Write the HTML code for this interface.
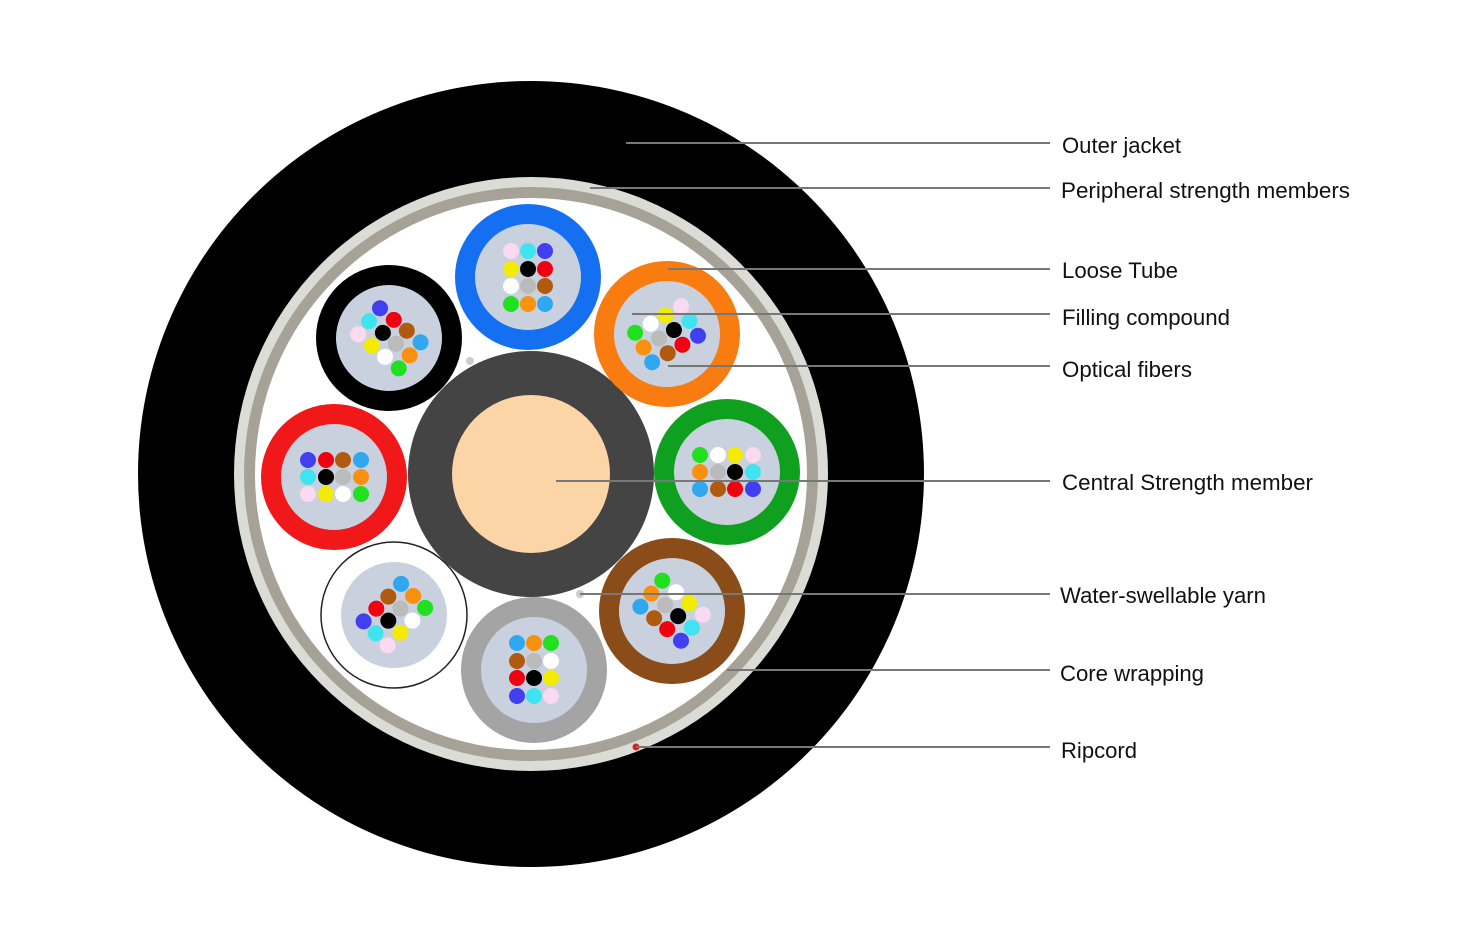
<!DOCTYPE html>
<html><head><meta charset="utf-8"><style>
html,body{margin:0;padding:0;background:#fff;}
svg{display:block}
text{font-family:"Liberation Sans",sans-serif;font-size:22px;fill:#111}
</style></head><body>
<svg width="1476" height="926" viewBox="0 0 1476 926" xmlns="http://www.w3.org/2000/svg">
<defs>
<g id="fib">
<circle r="53" fill="#c9d1df"/>
<circle cx="-17" cy="-26" r="8" fill="#fadaf0"/>
<circle cx="0" cy="-26" r="8" fill="#40e4f0"/>
<circle cx="17" cy="-26" r="8" fill="#4040f0"/>
<circle cx="-17" cy="-8" r="8" fill="#f4ec00"/>
<circle cx="0" cy="-8" r="8" fill="#000"/>
<circle cx="17" cy="-8" r="8" fill="#f00010"/>
<circle cx="-17" cy="9" r="8" fill="#fff"/>
<circle cx="0" cy="9" r="8" fill="#bbb"/>
<circle cx="17" cy="9" r="8" fill="#b05a10"/>
<circle cx="-17" cy="27" r="8" fill="#20e020"/>
<circle cx="0" cy="27" r="8" fill="#f89010"/>
<circle cx="17" cy="27" r="8" fill="#30a8f0"/>
</g>
</defs>
<circle cx="531" cy="474" r="393" fill="#000"/>
<circle cx="531" cy="474" r="297" fill="#dcdcd6"/>
<circle cx="531" cy="474" r="287" fill="#a6a298"/>
<circle cx="531" cy="474" r="276" fill="#fff"/>
<circle cx="531" cy="474" r="123" fill="#444"/>
<circle cx="531" cy="474" r="79" fill="#fbd5a6"/>

<circle cx="528" cy="277" r="73" fill="#1470f0"/><use href="#fib" transform="translate(528,277)"/>
<circle cx="667" cy="334" r="73" fill="#f87c10"/><use href="#fib" transform="translate(667,334) rotate(60)"/>
<circle cx="727" cy="472" r="73" fill="#10a020"/><use href="#fib" transform="translate(727,472) rotate(90)"/>
<circle cx="672" cy="611" r="73" fill="#8a4c18"/><use href="#fib" transform="translate(672,611) rotate(130)"/>
<circle cx="534" cy="670" r="73" fill="#a4a4a4"/><use href="#fib" transform="translate(534,670) rotate(180)"/>
<circle cx="394" cy="615" r="73" fill="#fff" stroke="#222" stroke-width="1.5"/><circle cx="394" cy="615" r="62" fill="#fff"/><use href="#fib" transform="translate(394,615) rotate(225)"/>
<circle cx="334" cy="477" r="73" fill="#f01818"/><use href="#fib" transform="translate(334,477) rotate(270)"/>
<circle cx="389" cy="338" r="73" fill="#000"/><use href="#fib" transform="translate(389,338) rotate(310)"/>

<circle cx="470" cy="361" r="4" fill="#ccc"/>
<circle cx="580" cy="594" r="4" fill="#ccc"/>
<circle cx="636" cy="747" r="3.5" fill="#e02020"/>

<g stroke="#777" stroke-width="2">
<line x1="626" y1="143" x2="1050" y2="143"/>
<line x1="590" y1="188" x2="1050" y2="188"/>
<line x1="668" y1="269" x2="1050" y2="269"/>
<line x1="632" y1="314" x2="1050" y2="314"/>
<line x1="668" y1="366" x2="1050" y2="366"/>
<line x1="556" y1="481" x2="1050" y2="481"/>
<line x1="580" y1="594" x2="1050" y2="594"/>
<line x1="727" y1="670" x2="1050" y2="670"/>
<line x1="636" y1="747" x2="1050" y2="747"/>
</g>
<text x="1062" y="153" textLength="119" lengthAdjust="spacingAndGlyphs">Outer jacket</text>
<text x="1061" y="198" textLength="289" lengthAdjust="spacingAndGlyphs">Peripheral strength members</text>
<text x="1062" y="278" textLength="116" lengthAdjust="spacingAndGlyphs">Loose Tube</text>
<text x="1062" y="325" textLength="168" lengthAdjust="spacingAndGlyphs">Filling compound</text>
<text x="1062" y="377" textLength="130" lengthAdjust="spacingAndGlyphs">Optical fibers</text>
<text x="1062" y="490" textLength="251" lengthAdjust="spacingAndGlyphs">Central Strength member</text>
<text x="1060" y="603" textLength="206" lengthAdjust="spacingAndGlyphs">Water-swellable yarn</text>
<text x="1060" y="681" textLength="144" lengthAdjust="spacingAndGlyphs">Core wrapping</text>
<text x="1061" y="758" textLength="76" lengthAdjust="spacingAndGlyphs">Ripcord</text>
</svg>
</body></html>
